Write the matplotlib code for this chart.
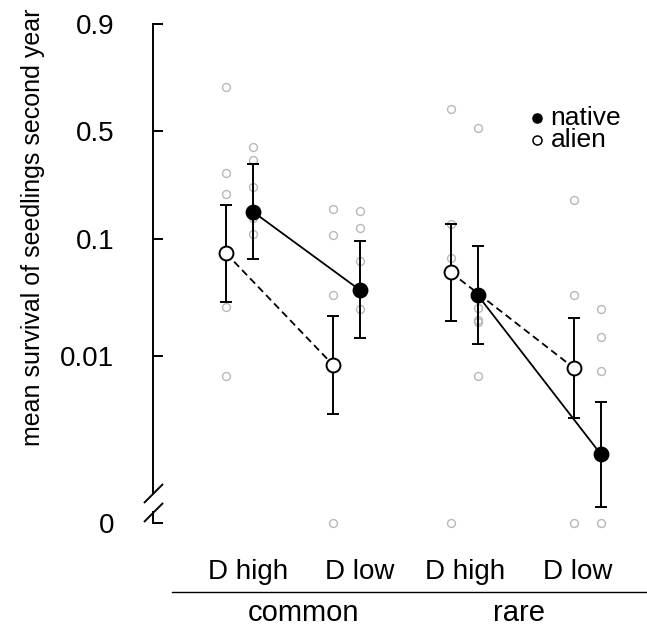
import numpy as np
import matplotlib
matplotlib.use('Agg')
import matplotlib.pyplot as plt
from matplotlib.path import Path

plt.rcParams['font.family'] = ['Liberation Sans', 'DejaVu Sans']

# groups: common D high, common D low, rare D high, rare D low
status = ['common', 'rare']
disturbance = ['D high', 'D low', 'D high', 'D low']

native_mean = [0.162, 0.0375, 0.0340, 0.00136]
native_lo = [0.0685, 0.0143, 0.0127, 0.00046]
native_hi = [0.340, 0.0954, 0.0874, 0.00393]
alien_mean = [0.0762, 0.00833, 0.0529, 0.00785]
alien_lo = [0.0297, 0.00306, 0.0203, 0.00285]
alien_hi = [0.182, 0.0225, 0.131, 0.0214]

# per-species survival (0 = no survivors)
native_raw = [
    [0.420, 0.356, 0.241, 0.146, 0.109],
    [0.163, 0.121, 0.0655, 0.0255],
    [0.518, 0.0261, 0.0206, 0.0198, 0.00666],
    [0.0259, 0.0147, 0.00733, 0.0],
]
alien_raw = [
    [0.712, 0.299, 0.217, 0.0268, 0.00666],
    [0.171, 0.1065, 0.0340, 0.0],
    [0.613, 0.1305, 0.070, 0.0],
    [0.197, 0.0338, 0.0],
]

tick_vals = [0, 0.01, 0.1, 0.5, 0.9]
tick_labels = ['0', '0.01', '0.1', '0.5', '0.9']

ZERO_AT = -8.0  # where zeros go below the axis break


def logit(p):
    p = np.atleast_1d(np.asarray(p, float))
    out = np.full(p.shape, ZERO_AT)
    nz = p > 0
    out[nz] = np.log(p[nz] / (1 - p[nz]))
    return out


pos = np.array([1, 2, 3.1, 4.25])
off = 0.125
label_x = [1.08, 2.12, 3.11, 4.16]
group_x = [1.6, 3.61]

fig = plt.figure(figsize=(6.47, 6.30), dpi=100)
ax = fig.add_axes([153 / 647, 92.8 / 630, 494 / 647, 528.15 / 630])
ax.set_xlim(0.192, 4.808)
ax.set_ylim(-8.3, 2.5)

# raw points
for i in range(4):
    ya = logit(alien_raw[i])
    yn = logit(native_raw[i])
    ax.plot(np.full(len(ya), pos[i] - off), ya, 'o', ms=5.7, mfc='none',
            mec='#b8b8b8', mew=1.0, zorder=1)
    ax.plot(np.full(len(yn), pos[i] + off), yn, 'o', ms=5.7, mfc='none',
            mec='#b8b8b8', mew=1.0, zorder=1)

lw = 1.4
nm, nl, nh = logit(native_mean), logit(native_lo), logit(native_hi)
am, al, ah = logit(alien_mean), logit(alien_lo), logit(alien_hi)

for a, b in [(0, 1), (2, 3)]:
    ax.plot(pos[[a, b]] + off, nm[[a, b]], color='black', lw=1.3, zorder=2)
    ax.plot(pos[[a, b]] - off, am[[a, b]], color='black', lw=1.3,
            dashes=(4, 2.4), zorder=2)

ax.errorbar(pos - off, am, yerr=[am - al, ah - am], fmt='none', ecolor='black',
            elinewidth=lw, capsize=4, capthick=lw, zorder=3)
ax.errorbar(pos + off, nm, yerr=[nm - nl, nh - nm], fmt='none', ecolor='black',
            elinewidth=lw, capsize=4, capthick=lw, zorder=3)
ax.plot(pos - off, am, 'o', ms=10, mfc='white', mec='black', mew=1.4, ls='none', zorder=4)
ax.plot(pos + off, nm, 'o', ms=10, mfc='black', mec='black', mew=1.4, ls='none', zorder=4)

# legend
ax.plot([0.7767], [0.7943], 'o', ms=6.5, mfc='black', mec='black', mew=1.1,
        transform=ax.transAxes, clip_on=False)
ax.plot([0.7767], [0.752], 'o', ms=6.5, mfc='white', mec='black', mew=1.1,
        transform=ax.transAxes, clip_on=False)
ax.text(0.805, 0.7943, 'native', transform=ax.transAxes, fontsize=19,
        ha='left', va='center')
ax.text(0.805, 0.752, 'alien', transform=ax.transAxes, fontsize=19,
        ha='left', va='center')

# y axis with break
for s in ax.spines.values():
    s.set_visible(False)
yt = ax.get_yaxis_transform()
ax.plot([0, 0], [logit(0.9)[0], -7.40], color='black', lw=lw, transform=yt, clip_on=False)
ax.plot([0, 0], [-7.79, ZERO_AT], color='black', lw=lw, transform=yt, clip_on=False)
slash = Path([(-1, -1), (1, 1)], [Path.MOVETO, Path.LINETO])
ax.plot([0.001, 0.001], [-7.40, -7.79], ls='none', marker=slash, ms=13.7,
        mec='black', mew=lw, transform=yt, clip_on=False)

ax.set_yticks(logit(tick_vals))
ax.set_yticklabels(tick_labels)
ax.tick_params(axis='y', direction='in', length=7.2, width=lw, pad=28,
               labelsize=20)
ax.set_xticks([])

xt = ax.get_xaxis_transform()
for x, lab in zip(label_x, disturbance):
    ax.text(x, -0.0797, lab, transform=xt, fontsize=20, ha='center', va='baseline')
ax.plot([0.369, 4.808], [-0.1038, -0.1038], color='black', lw=1.0,
        transform=xt, clip_on=False)
for x, lab in zip(group_x, status):
    ax.text(x, -0.1595, lab, transform=xt, fontsize=21, ha='center', va='baseline')

fig.text(0.051, 0.64, 'mean survival of seedlings second year', rotation=90,
         fontsize=18, ha='center', va='center')

fig.savefig('out.png', dpi=100)
